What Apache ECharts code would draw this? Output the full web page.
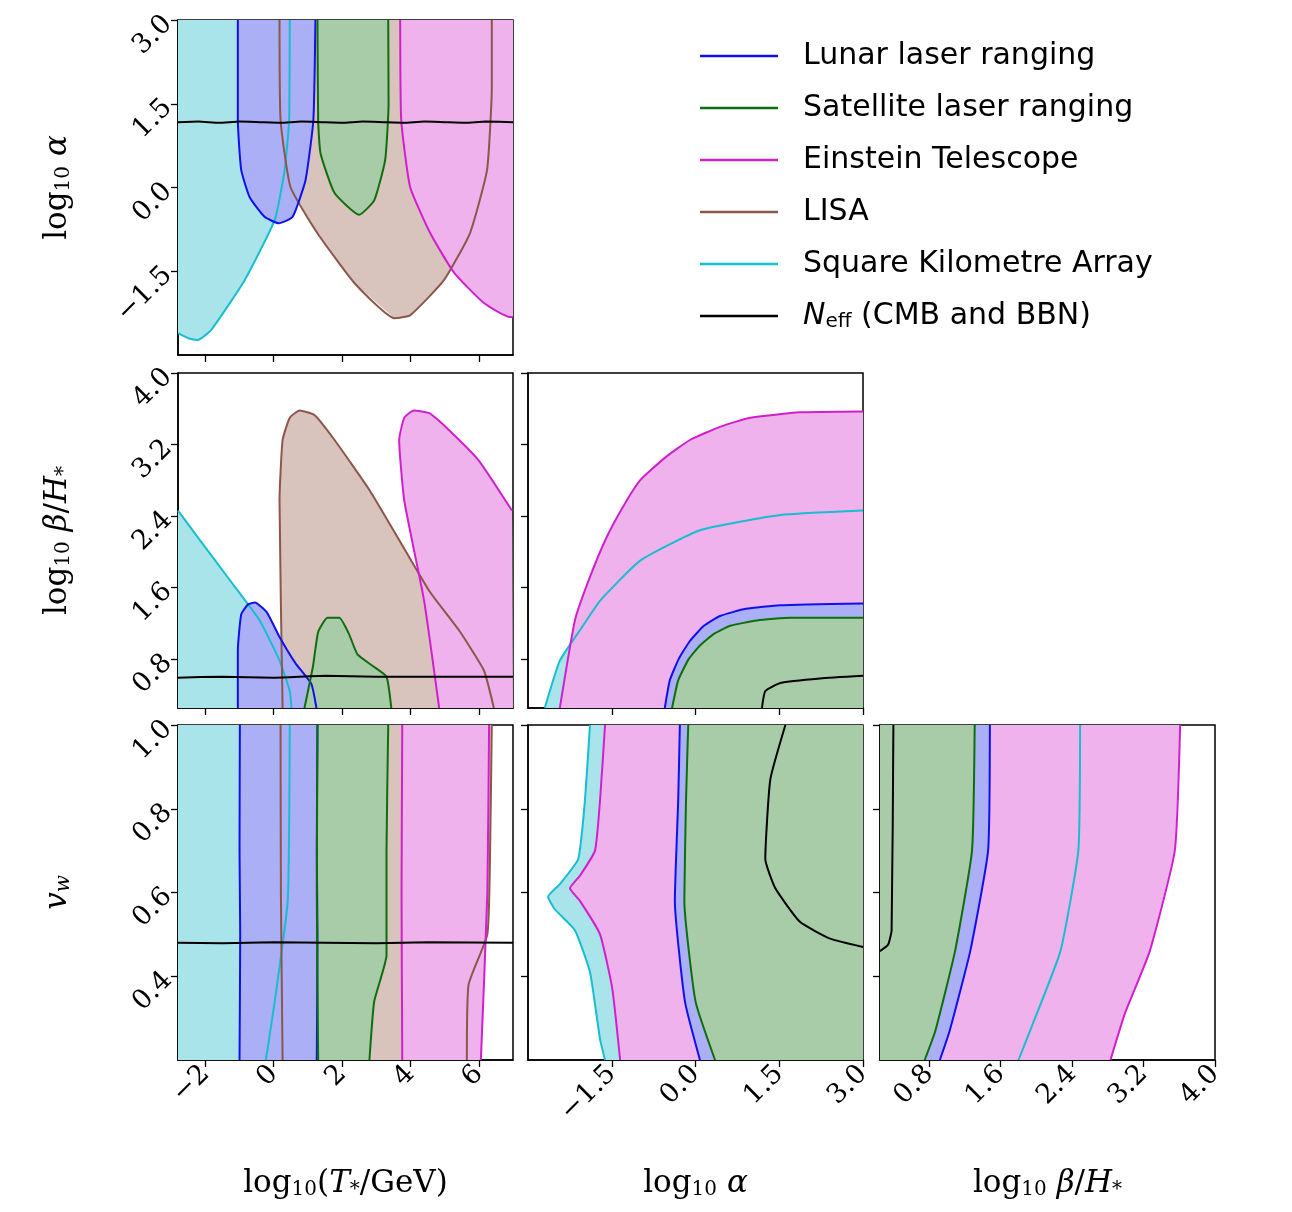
<!DOCTYPE html>
<html>
<head>
<meta charset="utf-8">
<script src="https://cdn.jsdelivr.net/npm/echarts@6/dist/echarts.min.js"></script>
<style>html,body{margin:0;background:#fff}#c{width:1292px;height:1212px}</style>
</head>
<body>
<div id="c"></div>
<script>
// tick labels
const tTicks = [-2, 0, 2, 4, 6];
const alphaTicks = [-1.5, 0, 1.5, 3];
const betaTicks = [0.8, 1.6, 2.4, 3.2, 4.0];
const vTicks = [0.4, 0.6, 0.8, 1.0];

const names = ['Lunar laser ranging', 'Satellite laser ranging', 'Einstein Telescope', 'LISA', 'Square Kilometre Array', 'Neff'];

// --- panel T vs alpha
const tAlphaSka = [[0.47,3],[0.45,1.2],[0.32,0.31],[0.03,-0.58],[-0.85,-1.66],[-1.84,-2.56],[-2.22,-2.73],[-2.5,-2.7],[-2.8,-2.61]];
const tAlphaLlr = [[-1.05,3],[-1.05,1.21],[-0.95,0.31],[-0.7,-0.18],[-0.26,-0.53],[0.15,-0.64],[0.55,-0.53],[0.93,0.13],[1.16,1.21],[1.22,3]];
const tAlphaSlr = [[1.28,3],[1.3,1.2],[1.37,0.61],[1.78,-0.1],[2.5,-0.49],[2.94,-0.23],[3.26,0.49],[3.36,1.5],[3.35,3]];
const tAlphaLisa = [[0.17,3],[0.2,1.21],[0.49,0.01],[1.28,-0.82],[2.36,-1.71],[3.53,-2.34],[3.99,-2.29],[4.98,-1.66],[5.74,-0.82],[6.24,0.31],[6.38,1.8],[6.38,3]];
const tAlphaEt = [[3.7,3],[3.73,1.21],[3.99,0.01],[4.58,-0.82],[5.28,-1.53],[6.15,-2.07],[6.91,-2.32],[7,-2.32]];
const tAlphaNeff = [[-2.8,1.17],[-2.2,1.18],[-1.6,1.16],[-1.0,1.18],[-0.4,1.17],[0.2,1.16],[0.8,1.18],[1.4,1.17],[2.0,1.16],[2.6,1.18],[3.2,1.17],[3.8,1.16],[4.4,1.18],[5.0,1.17],[5.6,1.16],[6.2,1.18],[7,1.17]];

// --- panel T vs beta
const tBetaSka = [[-2.8,2.46],[-2.16,2.13],[-1.28,1.68],[-0.41,1.23],[0.17,0.78],[0.47,0.44],[0.52,0.25]];
const tBetaLlr = [[-1.05,0.25],[-1.05,0.89],[-0.95,1.3],[-0.75,1.41],[-0.55,1.43],[-0.2,1.32],[0.15,1.06],[0.64,0.75],[1.1,0.52],[1.25,0.25]];
const tBetaLisa = [[0.26,0.25],[0.17,2.57],[0.26,3.25],[0.47,3.5],[0.76,3.58],[1.19,3.53],[1.78,3.25],[2.8,2.69],[3.67,2.13],[4.55,1.56],[5.42,1.12],[6.15,0.67],[6.44,0.25]];
const tBetaSlr = [[0.9,0.25],[1.15,0.72],[1.3,1.1],[1.57,1.26],[1.92,1.26],[2.2,1.08],[2.45,0.85],[2.9,0.72],[3.3,0.6],[3.44,0.25]];
const tBetaEt = [[4.84,0.25],[4.4,1.45],[3.82,2.57],[3.67,3.25],[3.82,3.5],[4.1,3.58],[4.55,3.55],[5.13,3.36],[6.0,3.02],[6.97,2.46]];
const tBetaNeff = [[-2.8,0.59],[-1.5,0.6],[0,0.59],[1.5,0.61],[3,0.6],[4.5,0.6],[7,0.6]];

// --- panel alpha vs beta
const alphaBetaSka = [[-2.7,0.25],[-2.43,0.78],[-2.07,1.12],[-1.71,1.45],[-0.99,1.9],[0.08,2.24],[1.52,2.41],[3,2.46]];
const alphaBetaEt = [[-2.43,0.25],[-2.16,1.23],[-1.9,1.7],[-1.6,2.15],[-1.3,2.5],[-0.99,2.8],[-0.55,3.05],[-0.1,3.25],[0.45,3.4],[0.98,3.5],[1.87,3.56],[3,3.57]];
const alphaBetaLlr = [[-0.55,0.25],[-0.46,0.56],[-0.3,0.8],[-0.1,1.0],[0.15,1.17],[0.44,1.28],[0.9,1.36],[1.52,1.4],[3,1.42]];
const alphaBetaSlr = [[-0.42,0.25],[-0.31,0.56],[-0.12,0.8],[0.08,0.95],[0.33,1.08],[0.62,1.17],[1.1,1.23],[1.7,1.26],[3,1.26]];
const alphaBetaNeff = [[1.19,0.25],[1.25,0.44],[1.52,0.53],[2.23,0.58],[3,0.61]];

// --- panel T vs v
const tVSka = [[0.47,1],[0.41,0.58],[0.03,0.34],[-0.23,0.2]];
const tVLlrL = [[-0.99,1],[-1.0,0.7],[-0.98,0.5],[-1.0,0.2]];
const tVLlrR = [[1.28,1],[1.26,0.7],[1.28,0.5],[1.26,0.2]];
const tVLisaL = [[0.2,1],[0.21,0.6],[0.26,0.2]];
const tVLisaR = [[6.38,1],[6.33,0.7],[6.25,0.5],[5.7,0.38],[5.65,0.2]];
const tVSlrL = [[1.28,1],[1.26,0.6],[1.3,0.2]];
const tVSlrR = [[3.35,1],[3.3,0.7],[3.3,0.45],[2.94,0.34],[2.8,0.2]];
const tVEtL = [[3.76,1],[3.74,0.6],[3.76,0.2]];
const tVEtR = [[6.3,1],[6.25,0.6],[6.06,0.2]];
const tVNeff = [[-2.8,0.48],[-1.5,0.479],[0,0.481],[1.5,0.48],[3,0.479],[4.5,0.481],[7,0.48]];

// --- panel alpha vs v
const alphaVSka = [[-1.89,1],[-1.98,0.82],[-2.1,0.68],[-2.43,0.62],[-2.64,0.59],[-2.52,0.56],[-2.16,0.51],[-1.89,0.41],[-1.71,0.25],[-1.62,0.2]];
const alphaVEt = [[-1.62,1],[-1.71,0.82],[-1.8,0.7],[-2.07,0.64],[-2.25,0.61],[-2.07,0.58],[-1.71,0.5],[-1.49,0.37],[-1.35,0.2]];
const alphaVLlr = [[-0.28,1],[-0.31,0.82],[-0.37,0.58],[-0.19,0.34],[0.08,0.2]];
const alphaVSlr = [[-0.13,1],[-0.17,0.82],[-0.2,0.58],[0,0.34],[0.35,0.2]];
const alphaVNeff = [[1.61,1],[1.34,0.87],[1.25,0.68],[1.43,0.61],[1.87,0.53],[2.41,0.49],[3,0.47]];

// --- panel beta vs v
const betaVSka = [[2.49,1],[2.47,0.7],[2.27,0.46],[1.93,0.27],[1.8,0.2]];
const betaVEt = [[3.61,1],[3.55,0.7],[3.27,0.46],[2.99,0.31],[2.83,0.2]];
const betaVLlr = [[1.48,1],[1.46,0.7],[1.26,0.46],[1.03,0.27],[0.92,0.2]];
const betaVSlr = [[1.31,1],[1.28,0.7],[1.09,0.46],[0.87,0.27],[0.75,0.2]];
const betaVNeff = [[0.4,1],[0.38,0.51],[0.34,0.475],[0.25,0.46]];

const lineCol = {llr:'#1010ee', slr:'#0e6e0e', et:'#d020cc', lisa:'#8c564b', ska:'#17becf', neff:'#000'};
const fillCol = {llr:'#abb0f6', slr:'#a8cca8', et:'#f0b2ec', lisa:'#d9c3bd', ska:'#a9e4eb'};
const legendName = {llr:names[0], slr:names[1], et:names[2], lisa:names[3], ska:names[4], neff:names[5]};

// fills: [grid, key, polygon]
const fills = [
  [0,'ska', tAlphaSka.concat([[-2.8,3]])],
  [0,'lisa', tAlphaLisa],
  [0,'et', tAlphaEt.concat([[7,3]])],
  [0,'llr', tAlphaLlr],
  [0,'slr', tAlphaSlr],
  [1,'ska', tBetaSka.concat([[-2.8,0.25]])],
  [1,'lisa', tBetaLisa],
  [1,'et', tBetaEt.concat([[7,0.25]])],
  [1,'llr', tBetaLlr],
  [1,'slr', tBetaSlr],
  [2,'ska', alphaBetaSka.concat([[3,0.25]])],
  [2,'et', alphaBetaEt.concat([[3,0.25]])],
  [2,'llr', alphaBetaLlr.concat([[3,0.25]])],
  [2,'slr', alphaBetaSlr.concat([[3,0.25]])],
  [3,'ska', tVSka.concat([[-2.8,0.2],[-2.8,1]])],
  [3,'lisa', tVLisaL.concat(tVLisaR.slice().reverse())],
  [3,'et', tVEtL.concat(tVEtR.slice().reverse())],
  [3,'llr', tVLlrL.concat(tVLlrR.slice().reverse())],
  [3,'slr', tVSlrL.concat(tVSlrR.slice().reverse())],
  [4,'ska', alphaVSka.concat([[3,0.2],[3,1]])],
  [4,'et', alphaVEt.concat([[3,0.2],[3,1]])],
  [4,'llr', alphaVLlr.concat([[3,0.2],[3,1]])],
  [4,'slr', alphaVSlr.concat([[3,0.2],[3,1]])],
  [5,'ska', betaVSka.concat([[0.25,0.2],[0.25,1]])],
  [5,'et', betaVEt.concat([[0.25,0.2],[0.25,1]])],
  [5,'llr', betaVLlr.concat([[0.25,0.2],[0.25,1]])],
  [5,'slr', betaVSlr.concat([[0.25,0.2],[0.25,1]])]
];
const lines = [
  [0,'ska',tAlphaSka],[0,'lisa',tAlphaLisa],[0,'et',tAlphaEt],[0,'llr',tAlphaLlr],[0,'slr',tAlphaSlr],[0,'neff',tAlphaNeff],
  [1,'ska',tBetaSka],[1,'lisa',tBetaLisa],[1,'et',tBetaEt],[1,'llr',tBetaLlr],[1,'slr',tBetaSlr],[1,'neff',tBetaNeff],
  [2,'ska',alphaBetaSka],[2,'et',alphaBetaEt],[2,'llr',alphaBetaLlr],[2,'slr',alphaBetaSlr],[2,'neff',alphaBetaNeff],
  [3,'ska',tVSka],[3,'lisa',tVLisaL],[3,'lisa',tVLisaR],[3,'et',tVEtL],[3,'et',tVEtR],[3,'llr',tVLlrL],[3,'llr',tVLlrR],[3,'slr',tVSlrL],[3,'slr',tVSlrR],[3,'neff',tVNeff],
  [4,'ska',alphaVSka],[4,'et',alphaVEt],[4,'llr',alphaVLlr],[4,'slr',alphaVSlr],[4,'neff',alphaVNeff],
  [5,'ska',betaVSka],[5,'et',betaVEt],[5,'llr',betaVLlr],[5,'slr',betaVSlr],[5,'neff',betaVNeff]
];

const serif = 'DejaVu Serif';
const sans = 'DejaVu Sans';
const rich = {
  s: {fontSize: 20, fontFamily: serif, padding: [12, 0, 0, 0], color: '#000'},
  si: {fontSize: 20, fontFamily: serif, fontStyle: 'italic', padding: [12, 0, 0, 0], color: '#000'},
  i: {fontSize: 31, fontFamily: serif, fontStyle: 'italic', color: '#000'},
  r: {fontSize: 31, fontFamily: serif, color: '#000'}
};
const fmt1 = v => (v < 0 ? '\u2212' : '') + Math.abs(v).toFixed(1);
const fmt0 = v => (v < 0 ? '\u2212' : '') + Math.abs(v);

const axisDefs = {
  T: {min: -2.8, max: 7, ticks: tTicks, f: fmt0, name: '{r|log}{s|10}{r|(}{i|T}{s|*}{r|/GeV)}'},
  a: {min: -3, max: 3, ticks: alphaTicks, f: fmt1, name: '{r|log}{s|10}{r| }{i|α}'},
  b: {min: 0.25, max: 4, ticks: betaTicks, f: fmt1, name: '{r|log}{s|10}{r| }{i|β}{r|/}{i|H}{s|*}'},
  v: {min: 0.2, max: 1, ticks: vTicks, f: fmt1, name: '{i|v}{si|w}'}
};
const panels = [
  {l:178, t:20, x:'T', y:'a', xl:false, yl:true},
  {l:178, t:373, x:'T', y:'b', xl:false, yl:true},
  {l:528, t:373, x:'a', y:'b', xl:false, yl:false},
  {l:178, t:725, x:'T', y:'v', xl:true, yl:true},
  {l:528, t:725, x:'a', y:'v', xl:true, yl:false},
  {l:880, t:725, x:'b', y:'v', xl:true, yl:false}
];
function mkAxis(d, gi, showLab, isX) {
  return {
    type: 'value', gridIndex: gi, min: d.min, max: d.max,
    splitLine: {show: false},
    axisLine: {show: true, onZero: false, lineStyle: {color: '#000', width: 1.5}},
    axisTick: {show: true, length: 7, customValues: d.ticks, lineStyle: {color: '#000', width: 1.3}},
    axisLabel: {show: showLab, customValues: d.ticks, formatter: d.f, rotate: 45,
      fontFamily: serif, fontSize: 27, color: '#000', margin: 10},
    name: showLab ? d.name : '', nameLocation: 'middle',
    nameGap: isX ? 108 : 104, nameRotate: isX ? 0 : 90,
    nameTextStyle: {rich: rich}
  };
}
const grid = [], xAxis = [], yAxis = [];
panels.forEach((p, i) => {
  grid.push({left: p.l, top: p.t, width: 335, height: 335, show: true, borderColor: '#000', borderWidth: 1.5, backgroundColor: 'transparent'});
  xAxis.push(mkAxis(axisDefs[p.x], i, p.xl, true));
  yAxis.push(mkAxis(axisDefs[p.y], i, p.yl, false));
});

const series = [];
fills.forEach(([g, k, pts]) => {
  series.push({
    type: 'custom', xAxisIndex: g, yAxisIndex: g, data: [0], silent: true, clip: true, z: 1,
    renderItem: (params, api) => ({type: 'polygon', shape: {points: pts.map(q => api.coord(q))}, style: {fill: fillCol[k]}})
  });
});
lines.forEach(([g, k, pts]) => {
  series.push({
    type: 'line', name: legendName[k], xAxisIndex: g, yAxisIndex: g, data: pts, showSymbol: false,
    smooth: 0.15, clip: true, z: 3, silent: true, animation: false,
    lineStyle: {color: lineCol[k], width: 2}, itemStyle: {color: lineCol[k]}
  });
});

const chart = echarts.init(document.getElementById('c'));
chart.setOption({
  animation: false,
  backgroundColor: '#fff',
  grid, xAxis, yAxis, series,
  legend: {
    orient: 'vertical', left: 695, top: 36, itemGap: 22,
    data: names.map(n => ({name: n, icon: 'rect'})),
    itemWidth: 78, itemHeight: 2.5, selectedMode: false,
    formatter: n => n === 'Neff' ? '{ni|N}{ns|eff}{t| (CMB and BBN)}' : '{t|' + n + '}',
    textStyle: {fontFamily: sans, fontSize: 30, color: '#000', padding: [0, 0, 0, 20],
      rich: {t: {fontFamily: sans, fontSize: 30, color: '#000', lineHeight: 32},
             ni: {fontFamily: sans, fontSize: 30, fontStyle: 'italic', color: '#000'},
             ns: {fontFamily: sans, fontSize: 20, color: '#000', padding: [12, 0, 0, 0]}}}
  }
});
</script>
</body>
</html>
